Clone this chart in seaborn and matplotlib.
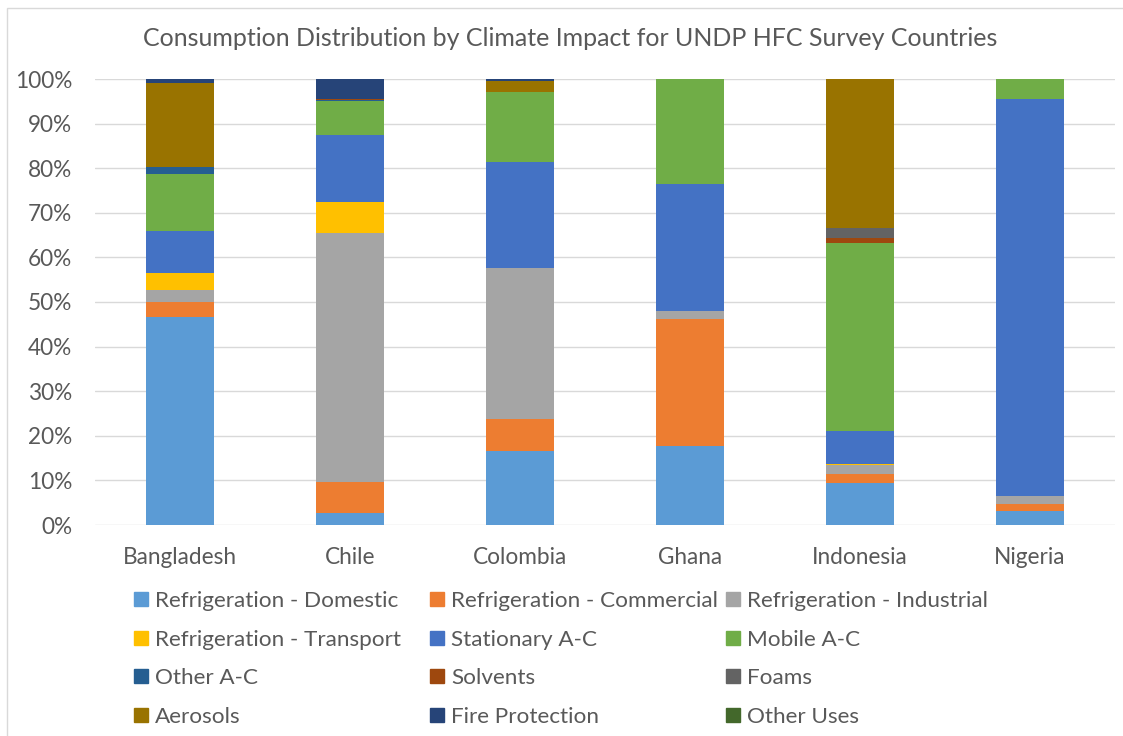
import matplotlib
matplotlib.use("Agg")
import matplotlib.pyplot as plt
from matplotlib.lines import Line2D
from matplotlib.patches import Rectangle
import seaborn as sns
import pandas as pd
import numpy as np

countries = ["Bangladesh", "Chile", "Colombia", "Ghana", "Indonesia", "Nigeria"]
categories = ["Refrigeration - Domestic", "Refrigeration - Commercial", "Refrigeration - Industrial",
              "Refrigeration - Transport", "Stationary A-C", "Mobile A-C",
              "Other A-C", "Solvents", "Foams",
              "Aerosols", "Fire Protection", "Other Uses"]
colors = ["#5B9BD5", "#ED7D31", "#A5A5A5", "#FFC000", "#4472C4", "#70AD47",
          "#255E91", "#9E480E", "#636363", "#997300", "#264478", "#43682B"]

# shares (%) per country, order of countries above
ref_domestic   = [46.6, 2.6, 16.6, 17.8, 9.5, 3.1]
ref_commercial = [3.4, 7.0, 7.1, 28.4, 1.9, 1.6]
ref_industrial = [2.6, 55.8, 34.0, 1.7, 2.0, 1.8]
ref_transport  = [3.9, 7.1, 0.0, 0.0, 0.3, 0.0]
stationary_ac  = [9.4, 15.0, 23.6, 28.6, 7.3, 89.0]
mobile_ac      = [12.8, 7.5, 15.8, 23.5, 42.2, 4.5]
other_ac       = [1.6, 0.3, 0.0, 0.0, 0.0, 0.0]
solvents       = [0.0, 0.3, 0.0, 0.0, 1.2, 0.0]
foams          = [0.0, 0.0, 0.0, 0.0, 2.3, 0.0]
aerosols       = [18.7, 0.0, 2.4, 0.0, 33.3, 0.0]
fire_protection = [1.0, 4.4, 0.5, 0.0, 0.0, 0.0]
other_uses     = [0.0, 0.0, 0.0, 0.0, 0.0, 0.0]

series = [ref_domestic, ref_commercial, ref_industrial, ref_transport, stationary_ac,
          mobile_ac, other_ac, solvents, foams, aerosols, fire_protection, other_uses]

df = pd.DataFrame({c: v for c, v in zip(categories, series)}, index=countries)
cum = df.cumsum(axis=1) / 100.0

sns.set_theme(style="white")
plt.rcParams['font.family'] = ['Lato', 'DejaVu Sans']
txt = "#595959"

fig = plt.figure(figsize=(11.23, 7.36), dpi=100)
ax = fig.add_axes([95/1123, 1 - 525/736, (1115-95)/1123, (525-79)/736])

for cat, col in reversed(list(zip(categories, colors))):
    d = pd.DataFrame({"country": countries, "value": cum[cat].values})
    sns.barplot(data=d, x="country", y="value", color=col, width=0.4,
                saturation=1, ax=ax, zorder=3, linewidth=0)

ax.set_ylim(0, 1)
ax.set_xlim(-0.5, 5.5)
ax.set_yticks(np.arange(0, 1.01, 0.1))
ax.set_yticklabels([f"{int(round(t*100))}%" for t in np.arange(0, 1.01, 0.1)])
ax.yaxis.grid(True, color="#D9D9D9", linewidth=1)
ax.set_axisbelow(True)
for s in ax.spines.values():
    s.set_visible(False)
ax.tick_params(axis="both", length=0, labelsize=16.3, colors=txt)
ax.tick_params(axis="y", pad=16.5)
ax.tick_params(axis="x", pad=16)
ax.set_xlabel("")
ax.set_ylabel("")

fig.text(570/1123, 1 - 39/736, "Consumption Distribution by Climate Impact for UNDP HFC Survey Countries",
         ha="center", va="center", fontsize=18, color=txt)

handles = [Line2D([0], [0], marker="s", linestyle="none", markersize=9.4,
                  markerfacecolor=c, markeredgecolor=c) for c in colors]
col_x = [134, 430, 726]
for j in range(3):
    idx = [j, 3 + j, 6 + j, 9 + j]
    leg = fig.legend([handles[i] for i in idx], [categories[i] for i in idx],
                     ncol=1, loc="upper left", bbox_to_anchor=(col_x[j]/1123, 1 - 591/736),
                     frameon=False, fontsize=16.2, labelcolor=txt, handlelength=0.6,
                     handletextpad=0.35, labelspacing=0.83,
                     borderaxespad=0, borderpad=0)

fig.patches.append(Rectangle((7/1123, -0.01), 1.2, 1 - 8/736 + 0.01, transform=fig.transFigure,
                             fill=False, edgecolor="#D9D9D9", linewidth=1))

fig.savefig("out.png", dpi=100)
